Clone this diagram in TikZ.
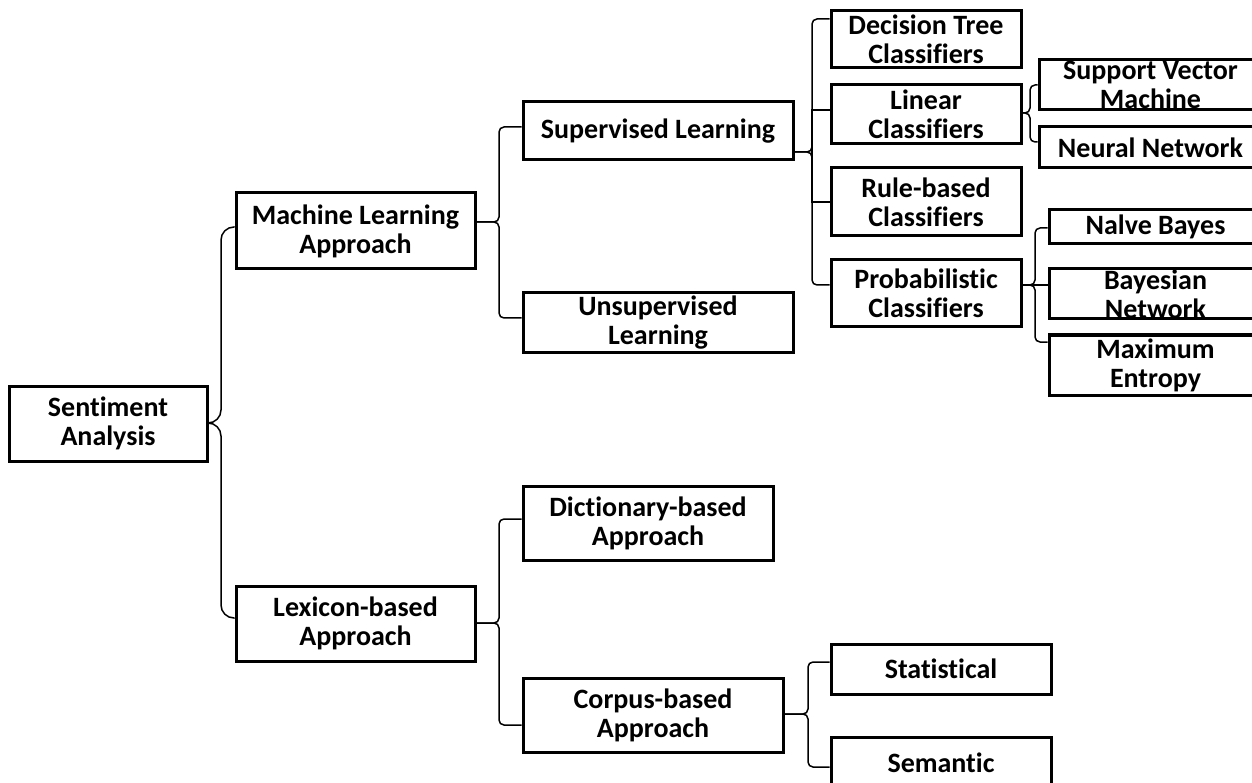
\documentclass[tikz,border=0pt]{standalone}
\usepackage{fontspec}
\setmainfont{Carlito}[Ligatures=NoCommon]
\begin{document}
\begin{tikzpicture}[x=1pt,y=-1pt,
  box/.style={draw=black, line width=3pt, inner sep=0pt, align=center,
    font=\fontsize{28}{29}\selectfont\bfseries},
  conn/.style={draw=black, line width=1.5pt, rounded corners=5pt},
  bigconn/.style={conn, rounded corners=13pt}]
\clip (0,0) rectangle (1252,783);
\useasboundingbox (0,0) rectangle (1252,783);
% level 0/1
\node[box, minimum width=198pt, minimum height=75pt] (sa) at (108,423.5) {Sentiment\\Analysis};
\node[box, minimum width=239pt, minimum height=76pt] (ml) at (355.5,231) {Machine Learning\\Approach};
\node[box, minimum width=239pt, minimum height=75pt] (lb) at (355.5,623.5) {Lexicon-based\\Approach};
% level 2
\node[box, minimum width=270pt, minimum height=58pt] (sl) at (658,131) {Supervised Learning};
\node[box, minimum width=270pt, minimum height=59pt] (ul) at (658,322.5) {Unsupervised\\Learning};
\node[box, minimum width=250pt, minimum height=74pt] (db) at (648,523) {Dictionary-based\\Approach};
\node[box, minimum width=260pt, minimum height=74pt] (cb) at (653,715) {Corpus-based\\Approach};
% level 3
\node[box, minimum width=190pt, minimum height=57pt] (dt) at (926,39.5) {Decision Tree\\Classifiers};
\node[box, minimum width=190pt, minimum height=59pt] (lc) at (926,114.5) {Linear\\Classifiers};
\node[box, minimum width=190pt, minimum height=68pt] (rb) at (926,202) {Rule-based\\Classifiers};
\node[box, minimum width=190pt, minimum height=67pt] (pc) at (926,293.5) {Probabilistic\\Classifiers};
\node[box, minimum width=220pt, minimum height=50pt] (st) at (941,669) {Statistical};
\node[box, minimum width=220pt, minimum height=52pt] (se) at (941,763) {Semantic};
% level 4
\node[box, minimum width=223pt, minimum height=50pt] (svm) at (1150.5,85) {Support Vector\\Machine};
\node[box, minimum width=223pt, minimum height=41pt] (nn) at (1150.5,147.5) {Neural Network};
\node[box, minimum width=213pt, minimum height=34pt] (nb) at (1155.5,227) {Nalve Bayes};
\node[box, minimum width=213pt, minimum height=50pt] (bn) at (1155.5,294) {Bayesian\\Network};
\node[box, minimum width=213pt, minimum height=60pt] (me) at (1155.5,365) {Maximum\\Entropy};
% connectors
\draw[bigconn] (sa.east |- 0,423) -- (221,423) -- (221,227) -- (ml.west |- 0,227);
\draw[bigconn] (sa.east |- 0,423) -- (221,423) -- (221,618) -- (lb.west |- 0,618);
\draw[conn] (ml.east |- 0,222) -- (499,222) -- (499,127) -- (sl.west |- 0,127);
\draw[conn] (ml.east |- 0,222) -- (499,222) -- (499,318) -- (ul.west |- 0,318);
\draw[conn] (lb.east |- 0,623) -- (499,623) -- (499,519) -- (db.west |- 0,519);
\draw[conn] (lb.east |- 0,623) -- (499,623) -- (499,725) -- (cb.west |- 0,725);
\draw[conn] (sl.east |- 0,152) -- (812,152) -- (812,19) -- (dt.west |- 0,19);
\draw[conn] (sl.east |- 0,152) -- (812,152) -- (812,285) -- (pc.west |- 0,285);
\draw[conn, sharp corners] (812,152) -- (812,110) -- (lc.west |- 0,110);
\draw[conn, sharp corners] (812,152) -- (812,202) -- (rb.west |- 0,202);
\draw[conn] (lc.east |- 0,113) -- (1030,113) -- (1030,85) -- (svm.west |- 0,85);
\draw[conn] (lc.east |- 0,113) -- (1030,113) -- (1030,142) -- (nn.west |- 0,142);
\draw[conn] (pc.east |- 0,285) -- (1035,285) -- (1035,228) -- (nb.west |- 0,228);
\draw[conn] (pc.east |- 0,285) -- (1035,285) -- (1035,342) -- (me.west |- 0,342);
\draw[conn, sharp corners] (pc.east |- 0,285) -- (bn.west |- 0,285);
\draw[conn] (cb.east |- 0,714) -- (808,714) -- (808,662) -- (st.west |- 0,662);
\draw[conn] (cb.east |- 0,714) -- (808,714) -- (808,767) -- (se.west |- 0,767);
\end{tikzpicture}
\end{document}
